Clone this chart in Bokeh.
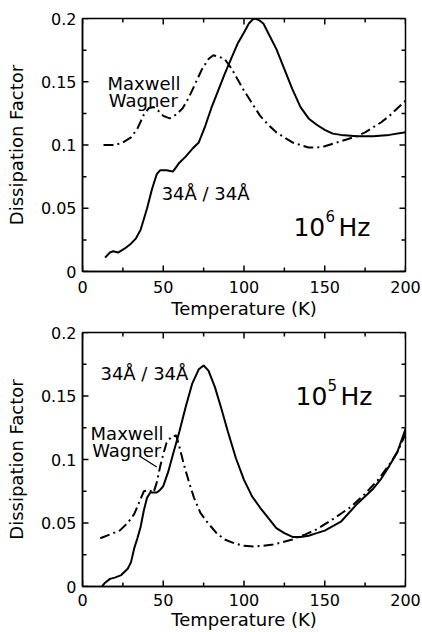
from bokeh.plotting import figure
from bokeh.models import FixedTicker, Label, Range1d, CustomJSTickFormatter
from bokeh.layouts import column
from bokeh.embed import file_html
from bokeh.resources import INLINE

FONT = "DejaVu Sans"

# ---- data: 10^6 Hz panel ----
t6_solid = [14, 17, 19, 22, 26, 30, 33, 36, 40, 43, 46, 48, 52, 56, 60, 64, 68, 72, 76, 80, 84, 88,
             92, 96, 100, 103, 106, 109, 112, 116, 120, 125, 130, 135, 140, 145, 150, 155, 160, 170,
             180, 190, 200]
d6_solid = [0.011, 0.015, 0.016, 0.015, 0.018, 0.022, 0.026, 0.033, 0.050, 0.065, 0.077, 0.080, 0.080,
            0.079, 0.086, 0.091, 0.097, 0.102, 0.115, 0.130, 0.143, 0.156, 0.168, 0.180, 0.189, 0.196,
            0.200, 0.199, 0.196, 0.186, 0.176, 0.160, 0.144, 0.130, 0.121, 0.116, 0.112, 0.109, 0.108,
            0.107, 0.107, 0.108, 0.110]
t6_mw = [13, 20, 25, 30, 34, 38, 41, 44, 47, 50, 54, 58, 62, 66, 70, 74, 78, 81, 84, 88, 92, 96, 100,
         105, 110, 115, 120, 125, 130, 135, 140, 145, 150, 155, 160, 165, 170, 175, 180, 185, 190, 195, 200]
d6_mw = [0.100, 0.100, 0.102, 0.106, 0.113, 0.124, 0.129, 0.130, 0.127, 0.123, 0.121, 0.124, 0.129,
         0.138, 0.149, 0.160, 0.168, 0.171, 0.170, 0.168, 0.161, 0.152, 0.143, 0.133, 0.123, 0.116,
         0.110, 0.106, 0.102, 0.100, 0.098, 0.098, 0.099, 0.101, 0.103, 0.105, 0.107, 0.110, 0.114,
         0.118, 0.123, 0.129, 0.135]

# ---- data: 10^5 Hz panel ----
t5_solid = [12, 14, 17, 20, 24, 28, 30, 32, 34, 36, 38, 40, 42, 44, 46, 48, 50, 53, 56, 60, 64, 68, 72,
            75, 78, 82, 86, 90, 95, 100, 105, 110, 115, 120, 125, 130, 135, 140, 145, 150, 160, 170,
            180, 185, 190, 195, 200]
d5_solid = [0.000, 0.003, 0.006, 0.007, 0.009, 0.014, 0.019, 0.030, 0.038, 0.047, 0.060, 0.070, 0.074,
            0.074, 0.074, 0.076, 0.079, 0.090, 0.104, 0.122, 0.142, 0.160, 0.171, 0.174, 0.170, 0.157,
            0.140, 0.122, 0.101, 0.084, 0.071, 0.062, 0.054, 0.046, 0.042, 0.039, 0.039, 0.040, 0.042,
            0.044, 0.051, 0.065, 0.077, 0.085, 0.095, 0.106, 0.124]
t5_mw = [11, 17, 23, 28, 32, 35, 38, 41, 44, 46, 48, 50, 52, 55, 58, 60, 63, 66, 69, 73, 77, 83, 88, 94,
         100, 106, 112, 118, 124, 130, 138, 145, 155, 166, 175, 183, 190, 195, 200]
d5_mw = [0.038, 0.041, 0.044, 0.050, 0.057, 0.066, 0.075, 0.076, 0.074, 0.082, 0.094, 0.104, 0.113,
         0.118, 0.119, 0.110, 0.095, 0.082, 0.070, 0.058, 0.051, 0.042, 0.037, 0.034, 0.032, 0.0315,
         0.032, 0.033, 0.035, 0.037, 0.041, 0.045, 0.053, 0.0625, 0.073, 0.084, 0.096, 0.106, 0.120]
lead_t = [35, 46]
lead_d = [0.103, 0.094]

x_major = [0, 50, 100, 150, 200]
x_minor = [25, 75, 125, 175]
y_major = [0, 0.05, 0.1, 0.15, 0.2]
y_minor = [0.025, 0.075, 0.125, 0.175]

X0, X1, Y0, Y1 = 0, 200, 0, 0.2
FRAME_W, FRAME_H = 323, 254
MAJOR_PX, MINOR_PX = 6, 4


def add_ticks(p, xt, yt, px):
    dx = px * (X1 - X0) / FRAME_W
    dy = px * (Y1 - Y0) / FRAME_H
    kw = dict(line_color="black", line_width=1.5)
    p.segment(x0=xt, y0=[Y0] * len(xt), x1=xt, y1=[Y0 + dy] * len(xt), **kw)
    p.segment(x0=xt, y0=[Y1] * len(xt), x1=xt, y1=[Y1 - dy] * len(xt), **kw)
    p.segment(x0=[X0] * len(yt), y0=yt, x1=[X0 + dx] * len(yt), y1=yt, **kw)
    p.segment(x0=[X1] * len(yt), y0=yt, x1=[X1 - dx] * len(yt), y1=yt, **kw)


def make_fig(height, top, bottom, tick_standoff, label_standoff):
    p = figure(width=422, height=height, x_range=Range1d(X0, X1), y_range=Range1d(Y0, Y1),
               output_backend="svg", toolbar_location=None,
               min_border_left=82, min_border_right=17, min_border_top=top, min_border_bottom=bottom,
               x_axis_label="Temperature (K)", y_axis_label="Dissipation Factor")
    p.grid.visible = False
    p.outline_line_color = "black"
    p.outline_line_width = 1.5
    p.background_fill_color = "white"
    p.border_fill_color = "white"
    p.xaxis.ticker = FixedTicker(ticks=x_major, minor_ticks=x_minor)
    p.yaxis.ticker = FixedTicker(ticks=y_major, minor_ticks=y_minor)
    p.yaxis.formatter = CustomJSTickFormatter(code="return String(tick);")
    for ax in (p.xaxis[0], p.yaxis[0]):
        ax.major_tick_in = 0
        ax.major_tick_out = 0
        ax.minor_tick_in = 0
        ax.minor_tick_out = 0
        ax.axis_line_width = 1.5
        ax.major_label_text_font = FONT
        ax.major_label_text_font_size = "16px"
        ax.major_label_text_color = "black"
        ax.axis_label_text_font = FONT
        ax.axis_label_text_font_size = "18px"
        ax.axis_label_text_font_style = "normal"
        ax.axis_label_text_color = "black"
    p.xaxis.major_label_standoff = tick_standoff
    p.xaxis.axis_label_standoff = label_standoff
    p.yaxis.major_label_standoff = 6
    p.yaxis.axis_label_standoff = 11

    # inward ticks on all four sides, drawn from the tick lists
    add_ticks(p, x_major, y_major, MAJOR_PX)
    add_ticks(p, x_minor, y_minor, MINOR_PX)
    return p


def lbl(p, x, y, text, size="18px", dx=0, dy=0):
    p.add_layout(Label(x=x, y=y, x_offset=dx, y_offset=dy, text=text, text_font=FONT,
                       text_font_size=size, text_color="black",
                       text_align="left", text_baseline="alphabetic"))


p1 = make_fig(322, 18, 51, 9, 2)
p1.line(t6_mw, d6_mw, line_color="black", line_width=2, line_dash="10 4 2 4")
p1.line(t6_solid, d6_solid, line_color="black", line_width=2)
lbl(p1, 15.5, 0.1486, "Maxwell")
lbl(p1, 16.3, 0.135, "Wagner")
lbl(p1, 49, 0.0617, "34Å / 34Å")
lbl(p1, 130.6, 0.0348, "10", "25px")
lbl(p1, 130.6, 0.0348, "6", "15px", dx=32, dy=11)
lbl(p1, 130.6, 0.0348, "Hz", "25px", dx=45)

p2 = make_fig(310, 10, 46, 7, 0)
p2.line(t5_mw, d5_mw, line_color="black", line_width=2, line_dash="10 4 2 4")
p2.line(t5_solid, d5_solid, line_color="black", line_width=2)
p2.line(lead_t, lead_d, line_color="black", line_width=1.2)
lbl(p2, 5, 0.1205, "Maxwell")
lbl(p2, 6, 0.107, "Wagner")
lbl(p2, 11.1, 0.1675, "34Å / 34Å")
lbl(p2, 131.9, 0.150, "10", "25px")
lbl(p2, 131.9, 0.150, "5", "15px", dx=32, dy=11)
lbl(p2, 131.9, 0.150, "Hz", "25px", dx=45)

layout = column(p1, p2)
open("out.html", "w").write(file_html(layout, INLINE))
